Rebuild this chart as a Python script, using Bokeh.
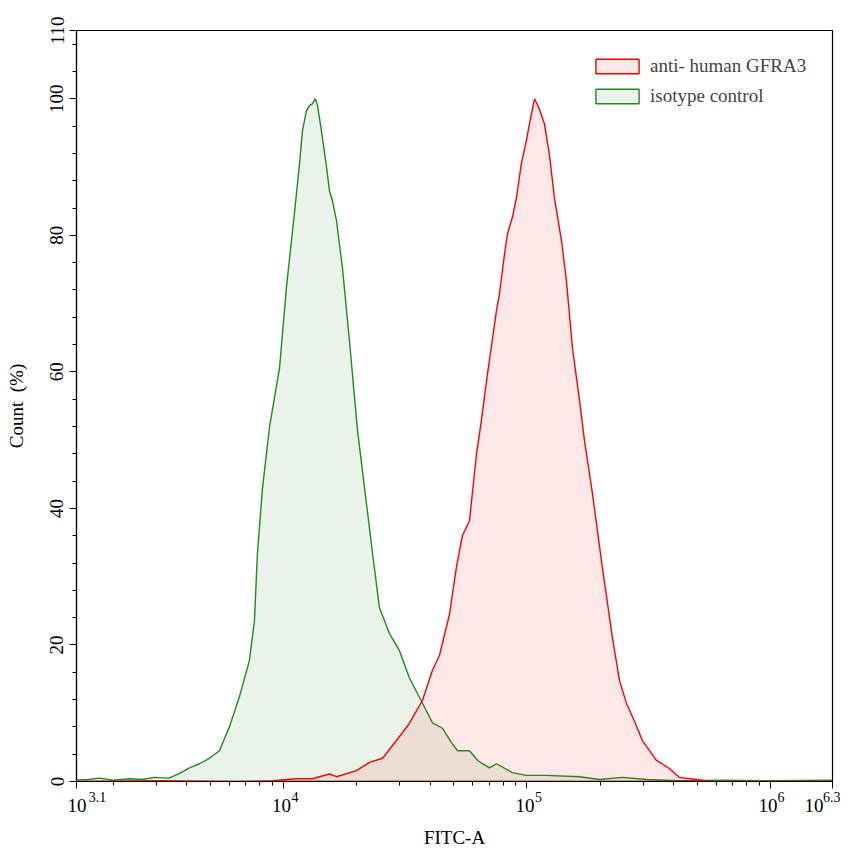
from bokeh.plotting import figure
from bokeh.models import FixedTicker, Legend, LegendItem, Range1d, LogAxis
from bokeh.embed import file_html
from bokeh.resources import INLINE

# ---------------- data (log10 of FITC-A intensity, % of max count) ----------------
iso_log = [3.146, 3.20, 3.244, 3.30, 3.368, 3.42, 3.47, 3.53, 3.573, 3.614, 3.655, 3.696,
           3.737, 3.778, 3.819, 3.860, 3.881, 3.893, 3.914, 3.943, 3.984, 4.012, 4.045,
           4.066, 4.078, 4.094, 4.107, 4.119, 4.131, 4.140, 4.156, 4.177, 4.189, 4.201,
           4.218, 4.242, 4.271, 4.292, 4.304, 4.333, 4.366, 4.394, 4.435, 4.476, 4.517,
           4.559, 4.612, 4.653, 4.690, 4.715, 4.764, 4.80, 4.846, 4.875, 4.940, 4.998,
           5.080, 5.216, 5.298, 5.392, 5.491, 5.626, 5.80, 6.0, 6.251]
iso_pct = [0.2, 0.3, 0.5, 0.2, 0.4, 0.3, 0.6, 0.5, 1.2, 2.0, 2.6, 3.4,
           4.5, 8.0, 12.4, 17.7, 23.6, 33.4, 43.0, 52.0, 60.6, 72.3, 83.2,
           90.5, 95.3, 98.2, 99.0, 99.3, 100.0, 99.0, 95.3, 90.0, 86.5, 85.1,
           82.1, 75.3, 64.6, 56.2, 51.5, 43.0, 33.4, 25.5, 21.7, 19.2, 15.2,
           12.3, 8.6, 7.8, 5.7, 4.5, 4.5, 3.0, 2.0, 2.6, 1.3, 0.9,
           0.9, 0.7, 0.3, 0.6, 0.3, 0.1, 0.2, 0.1, 0.2]

gfra3_log = [3.146, 3.50, 3.80, 3.955, 4.053, 4.119, 4.189, 4.218, 4.300, 4.353, 4.407,
             4.464, 4.517, 4.571, 4.612, 4.641, 4.682, 4.710, 4.735, 4.764, 4.793, 4.813,
             4.838, 4.875, 4.887, 4.908, 4.920, 4.940, 4.957, 4.977, 4.998, 5.010, 5.031,
             5.051, 5.072, 5.092, 5.113, 5.142, 5.162, 5.187, 5.216, 5.236, 5.269, 5.310,
             5.351, 5.380, 5.409, 5.441, 5.474, 5.532, 5.585, 5.626, 5.696, 5.749, 6.0, 6.251]
gfra3_pct = [0.0, 0.1, 0.0, 0.1, 0.4, 0.4, 1.1, 0.7, 1.6, 2.8, 3.4,
             6.0, 8.5, 11.9, 16.3, 18.5, 24.5, 31.3, 36.0, 38.2, 48.0, 52.9,
             59.7, 69.0, 71.4, 77.3, 80.2, 82.6, 85.5, 90.5, 93.9, 96.3, 100.0,
             98.5, 96.3, 91.9, 85.5, 79.2, 73.4, 63.5, 55.8, 50.0, 42.2, 31.3,
             21.1, 14.8, 11.4, 8.9, 6.0, 3.1, 1.9, 0.6, 0.3, 0.0, 0.0, 0.0]

x_tick_exp = [3.15, 4, 5, 6, 6.255]                 # tick positions (log10)
x_tick_base = ["10", "10", "10", "10", "10"]        # tick label base
x_tick_sup = ["3.1", "4", "5", "6", "6.3"]          # tick label exponent
y_ticks = [0, 20, 40, 60, 80, 100, 110]

# styling: pixel nudges of the label-part centres relative to their tick
BASE_DX = [0.5, -2, -2, -2.5, -18.5]
SUP_DX = [21, 11.5, 11.5, 10.5, -0.5]
PX_PER_DECADE = 243.5

FONT = "Liberation Serif"
FS = "19px"
X0, X1 = 10 ** 3.15, 10 ** 6.255

# ---------------- figure ----------------
p = figure(width=840, height=850, x_axis_type="log",
           x_range=Range1d(X0, X1), y_range=Range1d(0, 110),
           output_backend="svg", toolbar_location=None,
           min_border_left=76, min_border_right=8, min_border_top=30, min_border_bottom=69,
           background_fill_color="white", border_fill_color="white")
p.grid.visible = False
p.outline_line_color = "black"
p.outline_line_width = 1.2

iso_x = [10 ** v for v in iso_log]
gfr_x = [10 ** v for v in gfra3_log]

r_iso = p.patch(iso_x + [iso_x[-1], iso_x[0]], iso_pct + [0, 0],
                fill_color="#2E8B2E", fill_alpha=0.1, line_color="#1F8A1F", line_width=1.4)
r_gfr = p.patch(gfr_x + [gfr_x[-1], gfr_x[0]], gfra3_pct + [0, 0],
                fill_color="#FF2020", fill_alpha=0.1, line_color="#FF0000", line_width=1.4)

# ---------------- axes ----------------
minor_x = [m * 10 ** d for d in range(3, 7) for m in range(2, 10)
           if X0 < m * 10 ** d < X1]
xt = [10 ** e for e in x_tick_exp]

# axis A: tick marks only
ax_a = p.xaxis[0]
ax_a.ticker = FixedTicker(ticks=xt, minor_ticks=minor_x)
ax_a.major_label_overrides = {t: "" for t in xt}
ax_a.major_label_text_font_size = "1px"
ax_a.major_label_standoff = 0

# axis B: exponents
sup_pos = [10 ** (e + dx / PX_PER_DECADE) for e, dx in zip(x_tick_exp, SUP_DX)]
ax_b = LogAxis(ticker=FixedTicker(ticks=sup_pos, minor_ticks=[]),
               major_label_overrides={t: s for t, s in zip(sup_pos, x_tick_sup)},
               axis_line_alpha=0, major_tick_out=0, major_tick_in=0,
               minor_tick_out=0, minor_tick_in=0,
               major_label_standoff=3,
               major_label_text_font=FONT, major_label_text_font_size="14px",
               major_label_text_color="black")
p.add_layout(ax_b, "below")

# axis C: "10" bases + axis title
base_pos = [10 ** (e + dx / PX_PER_DECADE) for e, dx in zip(x_tick_exp, BASE_DX)]
ax_c = LogAxis(ticker=FixedTicker(ticks=base_pos, minor_ticks=[]),
               major_label_overrides={t: s for t, s in zip(base_pos, x_tick_base)},
               axis_line_alpha=0, major_tick_out=0, major_tick_in=0,
               minor_tick_out=0, minor_tick_in=0,
               major_label_standoff=-6,
               major_label_text_font=FONT, major_label_text_font_size=FS,
               major_label_text_color="black",
               axis_label="FITC-A", axis_label_standoff=12,
               axis_label_text_font=FONT, axis_label_text_font_size=FS,
               axis_label_text_font_style="normal", axis_label_text_color="black")
p.add_layout(ax_c, "below")

p.yaxis.ticker = FixedTicker(ticks=y_ticks, minor_ticks=list(range(0, 110, 4)))
p.yaxis.major_label_orientation = "vertical"
p.yaxis.axis_label = "Count\u00a0 (%)"
p.yaxis.axis_label_standoff = 21
p.yaxis.major_label_standoff = 6
p.yaxis.major_label_text_font = FONT
p.yaxis.major_label_text_font_size = FS
p.yaxis.major_label_text_color = "black"
p.yaxis.axis_label_text_font = FONT
p.yaxis.axis_label_text_font_size = FS
p.yaxis.axis_label_text_font_style = "normal"
p.yaxis.axis_label_text_color = "black"

for ax in (ax_a, p.yaxis[0]):
    ax.axis_line_color = "black"
    ax.axis_line_width = 1.2
    ax.major_tick_line_color = "black"
    ax.minor_tick_line_color = "black"
    ax.major_tick_out = 7
    ax.major_tick_in = 0
    ax.minor_tick_out = 4
    ax.minor_tick_in = 0

legend = Legend(items=[LegendItem(label="anti- human GFRA3", renderers=[r_gfr]),
                       LegendItem(label="isotype control", renderers=[r_iso])],
                location=(514, 674), padding=0, margin=0, spacing=8,
                glyph_width=54, glyph_height=18, label_height=22, label_standoff=6,
                border_line_alpha=0, background_fill_alpha=0,
                label_text_font=FONT, label_text_font_size=FS)
p.add_layout(legend)

open("out.html", "w").write(file_html(p, INLINE))
